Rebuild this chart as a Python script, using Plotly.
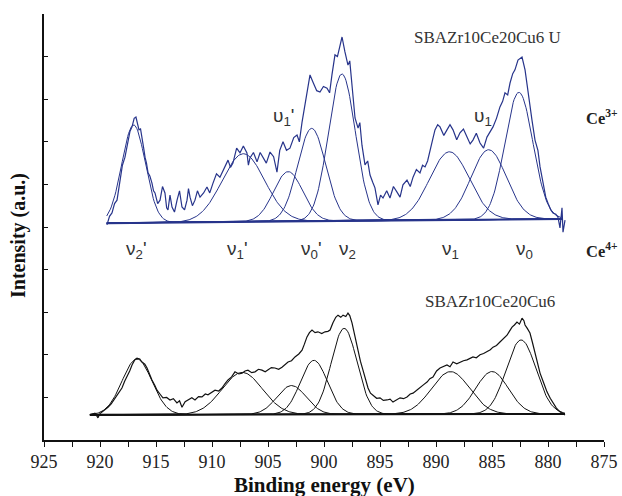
import numpy as np
import plotly.graph_objects as go

# ---------------- data ----------------
top_energy = [919.38, 919.15, 918.93, 918.70, 918.48, 918.35, 918.21, 918.00, 917.77, 917.63,
              917.50, 917.32, 917.14, 916.95, 916.79, 916.65, 916.52, 916.38, 916.25, 916.10,
              915.98, 915.85, 915.71, 915.55, 915.36, 915.22, 915.09, 914.85, 914.64, 914.42,
              914.20, 914.05, 913.93, 913.75, 913.57, 913.35, 913.12, 912.90, 912.68, 912.45,
              912.23, 912.10, 911.96, 911.75, 911.52, 911.30, 911.07, 910.75, 910.45, 910.20,
              909.91, 909.60, 909.29, 908.95, 908.57, 908.35, 908.13, 907.80, 907.50, 907.20,
              906.88, 906.75, 906.61, 906.30, 905.98, 905.70, 905.45, 905.15, 904.82, 904.50,
              904.20, 903.95, 903.66, 903.35, 903.04, 902.70, 902.41, 902.20, 901.96, 901.70,
              901.45, 901.25, 900.98, 900.65, 900.36, 900.05, 899.73, 899.50, 899.29, 899.02,
              898.80, 898.57, 898.39, 898.13, 897.86, 897.70, 897.50, 897.23, 896.96, 896.80,
              896.61, 896.34, 896.10, 895.89, 895.65, 895.45, 895.18, 894.95, 894.73, 894.40,
              894.11, 893.80, 893.48, 893.21, 892.95, 892.59, 892.30, 892.05, 891.75, 891.43,
              891.20, 890.98, 890.75, 890.54, 890.30, 890.09, 889.85, 889.64, 889.30, 889.02,
              888.75, 888.48, 888.15, 887.86, 887.55, 887.23, 886.95, 886.70, 886.40, 886.07,
              885.75, 885.45, 885.15, 884.91, 884.60, 884.29, 884.05, 883.84, 883.60, 883.39,
              883.15, 882.95, 882.68, 882.32, 882.05, 881.79, 881.60, 881.43, 881.16, 880.90,
              880.71, 880.45, 880.20, 880.00, 879.75, 879.55, 879.30, 879.11, 878.93, 878.75,
              878.66, 878.48]
top_intensity = [5.05, 5.25, 5.33, 5.55, 5.63, 5.85, 6.03, 6.45, 6.64, 6.85,
                 6.97, 7.25, 7.35, 7.55, 7.58, 7.40, 7.28, 7.30, 7.04, 6.85,
                 6.64, 6.50, 6.27, 6.20, 6.03, 5.85, 5.80, 5.55, 5.63, 5.95,
                 5.80, 5.45, 5.40, 5.75, 5.47, 5.35, 5.63, 5.85, 5.47, 5.40,
                 5.63, 5.90, 5.70, 5.50, 5.63, 5.85, 5.70, 5.80, 5.94, 5.80,
                 6.03, 6.25, 6.17, 6.35, 6.57, 6.40, 6.50, 6.85, 6.74, 6.90,
                 6.74, 6.45, 6.62, 6.75, 6.53, 6.75, 6.62, 6.50, 6.76, 6.65,
                 6.29, 6.80, 7.00, 6.80, 6.85, 7.10, 7.16, 7.00, 7.46, 7.86,
                 8.20, 8.57, 8.40, 8.20, 8.17, 8.30, 8.26, 8.15, 8.57, 9.04,
                 9.00, 9.27, 9.46, 9.11, 8.80, 8.90, 8.40, 7.56, 7.32, 7.45,
                 6.92, 6.46, 6.55, 6.22, 6.05, 5.92, 5.52, 5.75, 5.68, 5.85,
                 5.68, 5.95, 5.82, 5.70, 5.99, 6.10, 5.95, 6.17, 6.35, 6.27,
                 6.45, 6.41, 6.55, 6.81, 7.05, 7.28, 7.40, 7.35, 7.15, 7.28,
                 7.40, 7.28, 7.05, 7.21, 7.30, 7.11, 6.95, 7.04, 7.20, 6.97,
                 6.85, 7.11, 7.25, 7.35, 7.55, 7.82, 7.95, 8.15, 8.10, 8.38,
                 8.60, 8.69, 8.92, 8.99, 8.69, 8.15, 7.85, 7.51, 7.04, 6.80,
                 6.41, 6.03, 5.70, 5.56, 5.40, 5.33, 5.30, 5.23, 4.98, 5.45,
                 4.88, 5.16]

bot_energy = [920.89, 920.65, 920.45, 920.30, 920.18, 920.00, 919.82, 919.55, 919.29, 919.00,
              918.66, 918.35, 918.04, 917.80, 917.59, 917.35, 917.14, 916.90, 916.70, 916.45,
              916.25, 916.00, 915.80, 915.55, 915.36, 915.10, 914.91, 914.65, 914.38, 914.05,
              913.75, 913.45, 913.13, 912.90, 912.68, 912.40, 912.14, 911.80, 911.52, 911.20,
              910.89, 910.60, 910.36, 910.05, 909.73, 909.40, 909.11, 908.85, 908.57, 908.25,
              907.95, 907.60, 907.32, 907.05, 906.79, 906.45, 906.16, 905.85, 905.54, 905.25,
              905.00, 904.70, 904.38, 904.05, 903.75, 903.45, 903.21, 902.90, 902.59, 902.25,
              901.96, 901.75, 901.52, 901.30, 901.07, 900.80, 900.54, 900.20, 899.91, 899.65,
              899.46, 899.20, 898.95, 898.75, 898.50, 898.30, 898.05, 897.86, 897.70, 897.50,
              897.23, 896.96, 896.75, 896.52, 896.30, 896.07, 895.85, 895.63, 895.30, 895.00,
              894.70, 894.38, 894.10, 893.84, 893.50, 893.21, 892.90, 892.59, 892.30, 892.05,
              891.75, 891.43, 891.10, 890.80, 890.55, 890.27, 889.95, 889.64, 889.30, 889.02,
              888.75, 888.48, 888.15, 887.86, 887.55, 887.23, 886.95, 886.70, 886.40, 886.07,
              885.75, 885.45, 885.15, 884.91, 884.60, 884.29, 883.95, 883.66, 883.45, 883.21,
              883.00, 882.77, 882.55, 882.32, 882.15, 882.05, 881.85, 881.61, 881.40, 881.16,
              880.95, 880.71, 880.40, 880.09, 879.80, 879.55, 879.25, 878.93, 878.70, 878.48]
bot_intensity = [0.59, 0.62, 0.63, 0.57, 0.52, 0.62, 0.66, 0.70, 0.77, 0.85,
                 0.99, 1.12, 1.22, 1.38, 1.48, 1.62, 1.76, 1.88, 1.92, 1.90,
                 1.83, 1.78, 1.69, 1.52, 1.41, 1.28, 1.17, 1.08, 0.99, 1.00,
                 0.94, 0.97, 0.87, 0.92, 0.77, 0.90, 0.94, 0.99, 0.94, 1.02,
                 1.01, 1.08, 1.06, 1.12, 1.17, 1.15, 1.22, 1.32, 1.41, 1.48,
                 1.60, 1.55, 1.57, 1.62, 1.64, 1.58, 1.60, 1.66, 1.64, 1.60,
                 1.64, 1.70, 1.69, 1.66, 1.71, 1.78, 1.83, 1.86, 1.95, 2.02,
                 2.11, 2.25, 2.42, 2.52, 2.58, 2.52, 2.54, 2.50, 2.54, 2.55,
                 2.58, 2.75, 2.88, 2.93, 2.88, 2.93, 2.90, 2.98, 2.92, 2.75,
                 2.42, 2.04, 1.85, 1.64, 1.40, 1.22, 1.10, 1.06, 0.98, 0.99,
                 0.93, 0.94, 0.96, 0.89, 0.95, 0.99, 0.97, 1.01, 1.08, 1.10,
                 1.16, 1.22, 1.30, 1.36, 1.44, 1.48, 1.62, 1.69, 1.72, 1.76,
                 1.72, 1.83, 1.79, 1.83, 1.86, 1.88, 1.92, 1.95, 1.93, 2.00,
                 2.03, 2.07, 2.12, 2.18, 2.22, 2.30, 2.38, 2.46, 2.55, 2.65,
                 2.70, 2.77, 2.72, 2.86, 2.80, 2.70, 2.62, 2.51, 2.30, 2.04,
                 1.80, 1.57, 1.35, 1.13, 0.98, 0.87, 0.75, 0.66, 0.62, 0.59]

# linear backgrounds (start / end energy and intensity)
top_base_energy = [919.4, 878.7]
top_base_intensity = [5.09, 5.19]
bot_base_energy = [920.9, 878.5]
bot_base_intensity = [0.59, 0.61]

# fitted component parameters: centre (eV), height above background, width sigma (eV)
top_centers = [917.0, 907.2, 903.2, 901.1, 898.4, 888.8, 885.3, 882.6]
top_heights = [2.30, 1.60, 1.17, 2.18, 3.45, 1.60, 1.64, 2.98]
top_sigmas = [1.05, 1.90, 1.30, 1.25, 1.20, 1.77, 1.58, 1.25]

bot_centers = [916.7, 907.3, 902.9, 900.9, 898.2, 888.7, 885.0, 882.4]
bot_heights = [1.31, 0.99, 0.68, 1.27, 2.02, 1.00, 1.00, 1.74]
bot_sigmas = [1.33, 1.80, 1.30, 1.20, 1.15, 1.70, 1.45, 1.33]

# peak labels
ce4_labels = ["ν<sub>2</sub>'", "ν<sub>1</sub>'", "ν<sub>0</sub>'", "ν<sub>2</sub>", "ν<sub>1</sub>", "ν<sub>0</sub>"]
ce4_label_energy = [916.7, 907.7, 901.1, 897.9, 888.75, 882.1]
ce3_labels = ["υ<sub>1</sub>'", "υ<sub>1</sub>"]
ce3_label_energy = [903.66, 885.8]

x_ticks = [925, 920, 915, 910, 905, 900, 895, 890, 885, 880, 875]

BLUE = "#27348b"
BLACK = "#111111"
SERIF = "Liberation Serif, Times New Roman, serif"
SANS = "Liberation Sans, Arial, sans-serif"

fig = go.Figure()


def add_set(base_e, base_i, centers, heights, sigmas, energy, intensity, color):
    e = np.linspace(base_e[0], base_e[1], 500)
    slope = (base_i[1] - base_i[0]) / (base_e[1] - base_e[0])
    bg = base_i[0] + (e - base_e[0]) * slope
    for c, h, s in zip(centers, heights, sigmas):
        y = bg + h * np.exp(-((e - c) ** 2) / (2 * s * s))
        fig.add_trace(go.Scatter(x=e, y=y, mode="lines",
                                 line=dict(color=color, width=1), hoverinfo="skip"))
    fig.add_trace(go.Scatter(x=base_e, y=base_i, mode="lines",
                             line=dict(color=color, width=2), hoverinfo="skip"))
    fig.add_trace(go.Scatter(x=energy, y=intensity, mode="lines",
                             line=dict(color=color, width=1.2), hoverinfo="skip"))


add_set(top_base_energy, top_base_intensity, top_centers, top_heights, top_sigmas,
        top_energy, top_intensity, BLUE)
add_set(bot_base_energy, bot_base_intensity, bot_centers, bot_heights, bot_sigmas,
        bot_energy, bot_intensity, BLACK)


def note(x, y, text, font, ref="data"):
    d = dict(x=x, y=y, text=text, showarrow=False, xanchor="center", yanchor="middle", font=font)
    d["xref"], d["yref"] = ("x", "y") if ref == "data" else ("paper", "paper")
    return d


ann = []
for t, e in zip(ce4_labels, ce4_label_energy):
    ann.append(note(e, 4.46, t, dict(family=SANS, size=19, color="#333")))
for t, e in zip(ce3_labels, ce3_label_energy):
    ann.append(note(e, 7.58, t, dict(family=SANS, size=19, color="#333")))
ann.append(note(875.2, 7.56, "<b>Ce<sup>3+</sup></b>", dict(family=SERIF, size=16.5, color="#222")))
ann.append(note(875.2, 4.46, "<b>Ce<sup>4+</sup></b>", dict(family=SERIF, size=16.5, color="#222")))
ann.append(note(885.4, 9.44, "SBAZr10Ce20Cu6 U", dict(family=SERIF, size=17, color="#333")))
ann.append(note(885.2, 3.24, "SBAZr10Ce20Cu6", dict(family=SERIF, size=17, color="#333")))

# full-window figure; the page's default body margin is removed after plotting
W, H = 622, 496
L, R, T, B = 44, 18, 14, 56
ytitle = note((18 - L) / (W - L - R), (H - B - 236) / (H - T - B), "<b>Intensity (a.u.)</b>",
              dict(family=SERIF, size=20, color="#111"), ref="paper")
ytitle["textangle"] = -90
ann.append(ytitle)
ann.append(note((324 - L) / (W - L - R), (H - B - 485) / (H - T - B), "<b>Binding energy (eV)</b>",
                dict(family=SERIF, size=21, color="#111"), ref="paper"))

fig.update_layout(
    width=W, height=H,
    margin=dict(l=L, r=R, t=T, b=B, autoexpand=False),
    paper_bgcolor="white", plot_bgcolor="white",
    showlegend=False,
    annotations=ann,
    xaxis=dict(range=[925, 875], tickvals=x_ticks, ticktext=[str(v) for v in x_ticks],
               ticks="outside", ticklen=5, tickwidth=1, tickcolor="#111",
               showline=True, linecolor="#111", linewidth=1.5, showgrid=False, zeroline=False,
               automargin=False,
               minor=dict(dtick=2.5, tick0=925, ticks="outside", ticklen=5, tickcolor="#111", showgrid=False),
               tickfont=dict(family=SERIF, size=18, color="#222")),
    yaxis=dict(range=[0, 10], dtick=1, ticks="inside", ticklen=4, tickcolor="#111",
               showticklabels=False, showline=True, linecolor="#111", linewidth=1.5,
               showgrid=False, zeroline=False, automargin=False),
)

fig.write_html("out.html", config={"displayModeBar": False},
               post_script="document.body.style.margin='0';document.body.style.overflow='hidden';")
